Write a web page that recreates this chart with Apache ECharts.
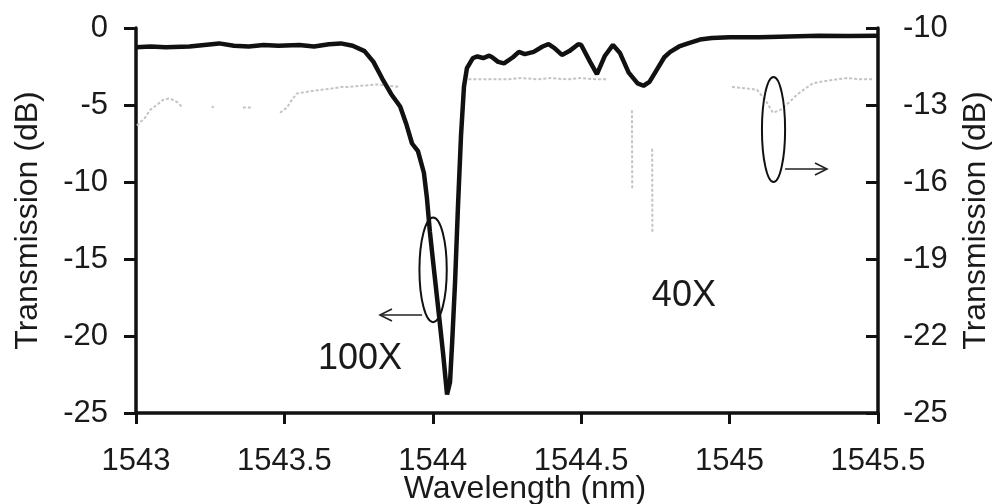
<!DOCTYPE html>
<html><head><meta charset="utf-8">
<script src="https://cdn.jsdelivr.net/npm/echarts@6/dist/echarts.min.js"></script>
<style>html,body{margin:0;background:#fff;overflow:hidden}#c{width:992px;height:504px}</style>
</head><body><div id="c"></div>
<script>
// ---- data ----
const xTicks = [1543, 1543.5, 1544, 1544.5, 1545, 1545.5];
const leftTicks = [0, -5, -10, -15, -20, -25];
const rightTicks = [-10, -13, -16, -19, -22, -25];

// 100X grating (left axis)
const wl100 = [1543.00,1543.05,1543.10,1543.18,1543.23,1543.28,1543.33,1543.38,1543.43,1543.48,1543.55,1543.60,1543.65,1543.69,1543.73,1543.77,1543.80,1543.83,1543.86,1543.89,1543.91,1543.93,1543.95,1543.97,1543.98,1543.99,1544.00,1544.02,1544.035,1544.048,1544.058,1544.065,1544.075,1544.085,1544.095,1544.105,1544.115,1544.135,1544.15,1544.17,1544.19,1544.20,1544.22,1544.24,1544.27,1544.29,1544.31,1544.34,1544.37,1544.39,1544.41,1544.435,1544.46,1544.49,1544.50,1544.53,1544.553,1544.58,1544.607,1544.63,1544.66,1544.69,1544.71,1544.73,1544.755,1544.78,1544.80,1544.83,1544.86,1544.90,1544.94,1545.00,1545.10,1545.20,1545.30,1545.40,1545.50];
const t100 = [-1.25,-1.2,-1.25,-1.2,-1.1,-1.0,-1.15,-1.2,-1.1,-1.15,-1.1,-1.2,-1.05,-1.0,-1.15,-1.5,-2.2,-3.3,-4.3,-5.1,-6.2,-7.5,-8.0,-9.4,-11.0,-13.2,-15.0,-18.5,-21.2,-23.8,-23.0,-20.5,-16.5,-11.5,-7.0,-3.8,-2.6,-1.95,-1.85,-1.95,-1.8,-1.9,-2.2,-2.3,-1.9,-1.55,-1.7,-1.55,-1.2,-1.05,-1.3,-1.75,-1.5,-1.05,-1.1,-2.2,-3.0,-1.8,-1.1,-1.6,-2.9,-3.6,-3.75,-3.5,-2.7,-1.9,-1.55,-1.2,-1.0,-0.75,-0.65,-0.6,-0.6,-0.55,-0.5,-0.52,-0.5];

// 40X grating (right axis); null = gap in the trace
const wl40 = [1543.003,1543.03,1543.047,1543.07,1543.091,1543.11,1543.125,1543.14,1543.158,1543.2,1543.255,1543.262,1543.3,1543.36,1543.394,1543.44,1543.485,1543.509,1543.525,1543.542,1543.57,1543.596,1543.63,1543.664,1543.69,1543.711,1543.76,1543.812,1543.85,1543.889,1544.0,1544.12,1544.183,1544.25,1544.3,1544.35,1544.4,1544.45,1544.5,1544.55,1544.587,1544.63,1544.671,1544.672,1544.7,1544.739,1544.740,1544.9,1545.008,1545.05,1545.092,1545.12,1545.146,1545.17,1545.2,1545.227,1545.25,1545.281,1545.33,1545.396,1545.44,1545.483];
const t40 = [-13.8,-13.5,-13.2,-13.0,-12.8,-12.75,-12.8,-12.9,-13.1,null,-13.05,-13.1,null,-13.1,-13.1,null,-13.3,-13.1,-12.8,-12.55,-12.5,-12.45,-12.4,-12.35,-12.3,-12.3,-12.25,-12.2,-12.25,-12.3,null,-12.0,-12.0,-12.0,-11.95,-12.0,-11.95,-12.0,-11.95,-12.0,-12.0,null,-13.2,-16.3,null,-14.7,-18.0,null,-12.3,-12.35,-12.4,-12.8,-13.3,-13.2,-12.9,-12.6,-12.4,-12.15,-12.05,-11.95,-12.0,-12.0];

const labels = ['100X', '40X'];
const xTitle = 'Wavelength (nm)';

// ---- chart ----
const FONT = '"Liberation Sans", Arial, sans-serif';
const TXT = '#1a1a1a';
const chart = echarts.init(document.getElementById('c'), null, {renderer: 'canvas'});
const d100 = wl100.map((x, i) => [x, t100[i]]);
const d40 = wl40.map((x, i) => [x, t40[i] === null ? '-' : t40[i]]);

const axisLine = {show: true, onZero: false, lineStyle: {color: '#111', width: 3.5}};
chart.setOption({
  animation: false,
  backgroundColor: '#fff',
  grid: {left: 136, right: 114, top: 28, bottom: 91, containLabel: false, outerBoundsMode: 'none'},
  xAxis: {
    type: 'value', min: 1543, max: 1545.5, interval: 0.5,
    axisLine: axisLine,
    axisTick: {show: true, length: 11, lineStyle: {color: '#111', width: 3}},
    axisLabel: {margin: 33, color: TXT, fontSize: 31, fontFamily: FONT,
      customValues: xTicks, formatter: v => String(v)},
    splitLine: {show: false}
  },
  yAxis: [{
    type: 'value', min: -25, max: 0, interval: 5, position: 'left',
    axisLine: axisLine,
    axisTick: {show: true, length: 12, lineStyle: {color: '#111', width: 3}, customValues: leftTicks},
    axisLabel: {margin: 28, color: TXT, fontSize: 31, fontFamily: FONT, customValues: leftTicks},
    splitLine: {show: false},
    name: 'Transmission (dB)', nameLocation: 'middle', nameGap: 92,
    nameTextStyle: {color: TXT, fontSize: 32, fontFamily: FONT}
  }, {
    type: 'value', min: -25, max: -10, position: 'right',
    axisLine: axisLine,
    axisTick: {show: true, inside: true, length: 12, lineStyle: {color: '#111', width: 3}, customValues: rightTicks},
    axisLabel: {margin: 25, color: TXT, fontSize: 31, fontFamily: FONT, customValues: rightTicks},
    splitLine: {show: false},
    name: 'Transmission (dB)', nameLocation: 'middle', nameGap: 82, nameRotate: 90,
    nameTextStyle: {color: TXT, fontSize: 32, fontFamily: FONT}
  }],
  series: [{
    name: '40X', type: 'line', yAxisIndex: 1, data: d40, showSymbol: false,
    connectNulls: false,
    lineStyle: {color: '#c4c4c4', width: 2, type: [3, 2]}, z: 1
  }, {
    name: '100X', type: 'line', yAxisIndex: 0, data: d100, showSymbol: false,
    lineStyle: {color: '#111', width: 4.5}, z: 2
  }]
});

// ---- annotations (positioned through the axes) ----
function px(x, y) { return chart.convertToPixel({xAxisIndex: 0, yAxisIndex: 0}, [x, y]); }
function ellipse(x0, x1, y0, y1) {
  const a = px(x0, y0), b = px(x1, y1);
  return {type: 'ellipse', shape: {cx: (a[0] + b[0]) / 2, cy: (a[1] + b[1]) / 2,
    rx: Math.abs(b[0] - a[0]) / 2, ry: Math.abs(b[1] - a[1]) / 2},
    style: {fill: 'none', stroke: '#111', lineWidth: 2}, z: 10};
}
function arrow(xs, xe, y) {
  const s = px(xs, y), e = px(xe, y);
  const dir = Math.sign(e[0] - s[0]);
  const st = {stroke: '#222', lineWidth: 1.6, fill: 'none'};
  return [
    {type: 'line', shape: {x1: s[0], y1: s[1], x2: e[0], y2: e[1]}, style: st, z: 10},
    {type: 'polyline', shape: {points: [[e[0] - dir * 12, e[1] - 6], [e[0], e[1]], [e[0] - dir * 12, e[1] + 6]]}, style: st, z: 10}
  ];
}
function label(t, x, y, size) {
  const p = px(x, y);
  return {type: 'text', x: p[0], y: p[1], style: {text: t, fill: TXT, fontSize: size, fontFamily: FONT,
    align: 'center', verticalAlign: 'middle'}, z: 10};
}
const rect = chart.getModel().getComponent('grid').coordinateSystem.getRect();
chart.setOption({graphic: [
  ellipse(1543.955, 1544.047, -12.3, -19.1),
  ...arrow(1543.964, 1543.822, -18.64),
  label(labels[0], 1543.755, -21.5, 36),
  ellipse(1545.109, 1545.187, -3.18, -10.0),
  ...arrow(1545.187, 1545.328, -9.16),
  label(labels[1], 1544.846, -17.4, 36),
  {type: 'text', x: rect.x + rect.width / 2 + 18, y: rect.y + rect.height + 76,
    style: {text: xTitle, fill: TXT, fontSize: 32, fontFamily: FONT, align: 'center', verticalAlign: 'middle'}, z: 10}
]});
</script>
</body></html>
